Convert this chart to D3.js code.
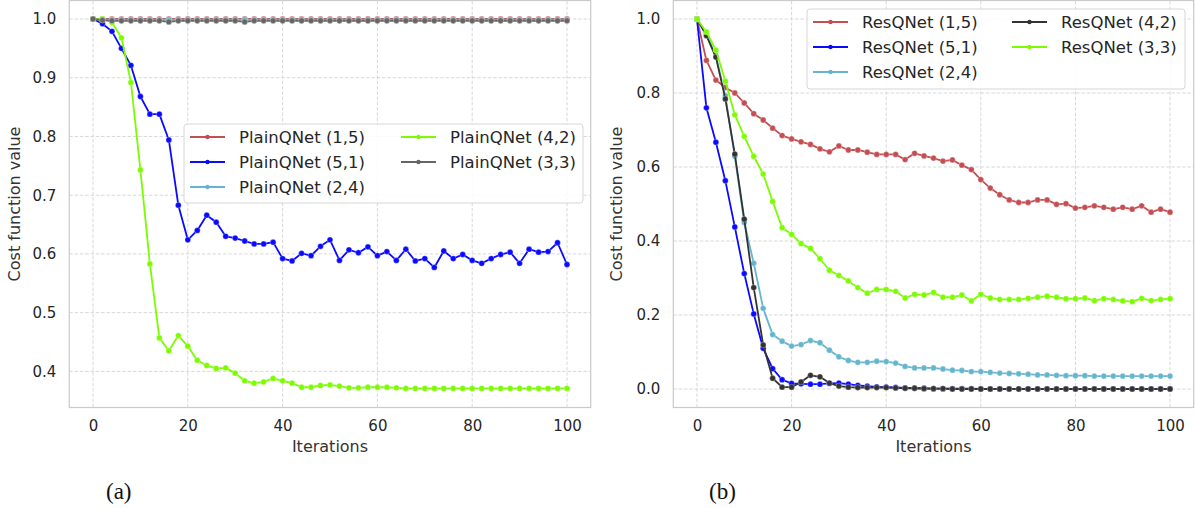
<!DOCTYPE html>
<html>
<head>
<meta charset="utf-8">
<script src="https://cdn.jsdelivr.net/npm/d3@7"></script>
<style>
body { margin: 0; background: #fff; }
svg { display: block; font-family: "DejaVu Sans", sans-serif; }
</style>
</head>
<body>
<div id="chart"></div>
<script>
var W = 1195, H = 508;

var iterations = [0, 2, 4, 6, 8, 10, 12, 14, 16, 18, 20, 22, 24, 26, 28, 30, 32, 34, 36, 38, 40,
    42, 44, 46, 48, 50, 52, 54, 56, 58, 60, 62, 64, 66, 68, 70, 72, 74, 76, 78, 80,
    82, 84, 86, 88, 90, 92, 94, 96, 98, 100];
var xTicks = [0, 20, 40, 60, 80, 100];

// (a) PlainQNet
var plain15 = [1.0, 1.0, 1.0, 1.0, 1.0, 1.0, 1.0, 1.0, 1.0, 1.0, 1.0, 1.0, 1.0, 1.0, 1.0, 1.0, 1.0,
    1.0, 1.0, 1.0, 1.0, 1.0, 1.0, 1.0, 1.0, 1.0, 1.0, 1.0, 1.0, 1.0, 1.0, 1.0, 1.0, 1.0,
    1.0, 1.0, 1.0, 1.0, 1.0, 1.0, 1.0, 1.0, 1.0, 1.0, 1.0, 1.0, 1.0, 1.0, 1.0, 1.0, 1.0];
var plain51 = [1.0, 0.992, 0.979, 0.950, 0.921, 0.868, 0.838, 0.838, 0.794, 0.683, 0.624,
    0.640, 0.666, 0.654, 0.630, 0.627, 0.622, 0.617, 0.617, 0.620, 0.592,
    0.588, 0.601, 0.597, 0.613, 0.624, 0.589, 0.607, 0.602, 0.612, 0.597,
    0.604, 0.589, 0.608, 0.588, 0.592, 0.577, 0.605, 0.592, 0.599, 0.589,
    0.584, 0.592, 0.599, 0.603, 0.584, 0.608, 0.603, 0.604, 0.619, 0.582];
var plain24 = [1.0, 0.999, 0.999, 0.999, 0.999, 0.999, 0.999, 0.999, 0.999, 0.999, 0.999,
    0.999, 0.999, 0.999, 0.999, 0.999, 0.999, 0.999, 0.999, 0.999, 0.999,
    0.999, 0.999, 0.999, 0.999, 0.999, 0.999, 0.999, 0.999, 0.999, 0.999,
    0.999, 0.999, 0.999, 0.999, 0.999, 0.999, 0.999, 0.999, 0.999, 0.999,
    0.999, 0.999, 0.999, 0.999, 0.999, 0.999, 0.999, 0.999, 0.999, 0.999];
var plain42 = [1.0, 1.0, 0.994, 0.968, 0.892, 0.743, 0.583, 0.457, 0.435, 0.461, 0.443,
    0.419, 0.410, 0.405, 0.406, 0.397, 0.384, 0.380, 0.382, 0.388, 0.384,
    0.380, 0.373, 0.373, 0.376, 0.377, 0.375, 0.372, 0.372, 0.373, 0.373,
    0.373, 0.372, 0.371, 0.371, 0.371, 0.371, 0.371, 0.371, 0.371, 0.371,
    0.371, 0.371, 0.371, 0.371, 0.371, 0.371, 0.371, 0.371, 0.371, 0.371];
var plain33 = [1.0, 0.998, 0.997, 0.997, 0.997, 0.997, 0.997, 0.997, 0.995, 0.997, 0.997,
    0.997, 0.997, 0.997, 0.997, 0.997, 0.995, 0.997, 0.997, 0.997, 0.997,
    0.997, 0.997, 0.997, 0.997, 0.997, 0.997, 0.997, 0.997, 0.997, 0.997,
    0.997, 0.997, 0.997, 0.997, 0.997, 0.997, 0.997, 0.997, 0.997, 0.997,
    0.997, 0.997, 0.997, 0.997, 0.997, 0.997, 0.997, 0.997, 0.997, 0.997];

// (b) ResQNet
var res15 = [1.0, 0.888, 0.835, 0.815, 0.800, 0.773, 0.744, 0.727, 0.705, 0.685, 0.676,
    0.668, 0.661, 0.649, 0.641, 0.657, 0.646, 0.646, 0.640, 0.634, 0.634,
    0.634, 0.620, 0.637, 0.630, 0.624, 0.616, 0.619, 0.605, 0.593, 0.566,
    0.543, 0.525, 0.511, 0.504, 0.504, 0.511, 0.511, 0.499, 0.501, 0.489,
    0.491, 0.495, 0.491, 0.486, 0.491, 0.486, 0.495, 0.478, 0.486, 0.478];
var res51 = [1.0, 0.760, 0.667, 0.563, 0.438, 0.312, 0.203, 0.110, 0.055, 0.025, 0.015,
    0.014, 0.013, 0.013, 0.015, 0.016, 0.013, 0.010, 0.008, 0.006, 0.005,
    0.004, 0.003, 0.002, 0.002, 0.001, 0.001, 0.001, 0.001, 0.001, 0.0,
    0.0, 0.0, 0.0, 0.0, 0.0, 0.0, 0.0, 0.0, 0.0, 0.0,
    0.0, 0.0, 0.0, 0.0, 0.0, 0.0, 0.0, 0.0, 0.0, 0.0];
var res24 = [1.0, 0.960, 0.900, 0.793, 0.629, 0.450, 0.340, 0.218, 0.147, 0.129, 0.116,
    0.120, 0.131, 0.125, 0.105, 0.087, 0.077, 0.072, 0.072, 0.075, 0.074,
    0.070, 0.061, 0.057, 0.057, 0.057, 0.054, 0.051, 0.050, 0.047, 0.047,
    0.045, 0.043, 0.042, 0.041, 0.040, 0.038, 0.038, 0.037, 0.036, 0.036,
    0.036, 0.035, 0.035, 0.035, 0.035, 0.035, 0.035, 0.035, 0.035, 0.035];
var res42 = [1.0, 0.955, 0.897, 0.784, 0.635, 0.459, 0.274, 0.119, 0.029, 0.005, 0.005,
    0.019, 0.037, 0.033, 0.016, 0.008, 0.005, 0.004, 0.004, 0.004, 0.004,
    0.003, 0.002, 0.002, 0.001, 0.001, 0.001, 0.0, 0.0, 0.0, 0.0,
    0.0, 0.0, 0.0, 0.0, 0.0, 0.0, 0.0, 0.0, 0.0, 0.0,
    0.0, 0.0, 0.0, 0.0, 0.0, 0.0, 0.0, 0.0, 0.0, 0.0];
var res33 = [1.0, 0.965, 0.916, 0.832, 0.741, 0.683, 0.629, 0.581, 0.507, 0.436, 0.418,
    0.393, 0.380, 0.352, 0.321, 0.307, 0.292, 0.274, 0.259, 0.269, 0.269,
    0.264, 0.246, 0.256, 0.254, 0.261, 0.248, 0.248, 0.254, 0.238, 0.256,
    0.246, 0.242, 0.242, 0.242, 0.245, 0.248, 0.251, 0.248, 0.244, 0.244,
    0.246, 0.239, 0.244, 0.242, 0.238, 0.236, 0.245, 0.239, 0.242, 0.244];

var plainLabels = ["PlainQNet (1,5)", "PlainQNet (5,1)", "PlainQNet (2,4)", "PlainQNet (4,2)", "PlainQNet (3,3)"];
var resLabels = ["ResQNet (1,5)", "ResQNet (5,1)", "ResQNet (2,4)", "ResQNet (4,2)", "ResQNet (3,3)"];
var plainTicksY = [0.4, 0.5, 0.6, 0.7, 0.8, 0.9, 1.0];
var resTicksY = [0.0, 0.2, 0.4, 0.6, 0.8, 1.0];

var RED = "#c44e52", BLUE = "#0a0aff", CYAN = "#64b5cd", LIME = "#7cfc00";

var svg = d3.select("#chart").append("svg")
    .attr("width", W)
    .attr("height", H);

function panel(p) {
    var x = d3.scaleLinear().domain([-5, 105]).range([p.left, p.right]);
    var y = d3.scaleLinear().domain(p.yDomain).range([407.5, 0.5]);
    var g = svg.append("g");

    // grid
    g.selectAll(".gx").data(xTicks).enter().append("line")
        .attr("x1", function(d) { return x(d); })
        .attr("x2", function(d) { return x(d); })
        .attr("y1", y.range()[0]).attr("y2", y.range()[1])
        .attr("stroke", "#d4d4d4").attr("stroke-width", 0.9)
        .attr("stroke-dasharray", "3.5,1.8");
    g.selectAll(".gy").data(p.yTicks).enter().append("line")
        .attr("x1", p.left).attr("x2", p.right)
        .attr("y1", function(d) { return y(d); })
        .attr("y2", function(d) { return y(d); })
        .attr("stroke", "#d4d4d4").attr("stroke-width", 0.9)
        .attr("stroke-dasharray", "3.5,1.8");

    var line = d3.line()
        .x(function(d, i) { return x(iterations[i]); })
        .y(function(d) { return y(d); });

    p.series.forEach(function(s) {
        var sg = g.append("g");
        sg.append("path")
            .attr("d", line(s.values))
            .attr("fill", "none")
            .attr("stroke", s.color)
            .attr("stroke-width", 1.8)
            .attr("stroke-linejoin", "round");
        sg.selectAll("circle").data(s.values).enter().append("circle")
            .attr("cx", function(d, i) { return x(iterations[i]); })
            .attr("cy", function(d) { return y(d); })
            .attr("r", 2.9)
            .attr("fill", s.color)
            .attr("stroke", "#fff")
            .attr("stroke-opacity", 0.6)
            .attr("stroke-width", 0.5);
    });

    // frame
    g.append("rect")
        .attr("x", p.left).attr("y", 0.5)
        .attr("width", p.right - p.left).attr("height", 407)
        .attr("fill", "none").attr("stroke", "#cccccc").attr("stroke-width", 1.25);

    var xAxis = d3.axisBottom(x).tickValues(xTicks).tickSize(0).tickPadding(0);
    var ax = g.append("g").attr("transform", "translate(0,420)").call(xAxis);
    ax.select(".domain").remove();
    ax.selectAll("text").attr("font-size", 15).attr("fill", "#262626")
        .attr("font-family", "DejaVu Sans").attr("dy", "0.71em");

    var yAxis = d3.axisLeft(y).tickValues(p.yTicks).tickFormat(d3.format(".1f")).tickSize(0).tickPadding(0);
    var ay = g.append("g").attr("transform", "translate(" + (p.left - 13) + ",0)").call(yAxis);
    ay.select(".domain").remove();
    ay.selectAll("text").attr("font-size", 15).attr("fill", "#262626")
        .attr("font-family", "DejaVu Sans");

    g.append("text")
        .attr("x", (p.left + p.right) / 2).attr("y", 452)
        .attr("text-anchor", "middle")
        .attr("font-size", 16).attr("fill", "#333")
        .text("Iterations");
    g.append("text")
        .attr("transform", "translate(" + p.ylabX + "," + 204 + ") rotate(-90)")
        .attr("text-anchor", "middle")
        .attr("font-size", 16).attr("fill", "#333")
        .text("Cost function value");

    g.append("text")
        .attr("x", p.capX).attr("y", 499)
        .attr("font-family", "Liberation Serif, serif")
        .attr("font-size", 23).attr("fill", "#111")
        .text(p.caption);

    // legend
    var L = p.legend;
    var lg = g.append("g");
    lg.append("rect")
        .attr("x", L.x).attr("y", L.y).attr("width", L.w).attr("height", L.h)
        .attr("rx", 3)
        .attr("fill", "#fff").attr("fill-opacity", 0.85)
        .attr("stroke", "#d6d6d6").attr("stroke-width", 1);
    p.series.forEach(function(s, i) {
        var col = i < 3 ? 0 : 1, row = i < 3 ? i : i - 3;
        var lx = L.x + 6 + col * L.colW, ly = L.y + 13 + row * 25;
        lg.append("line")
            .attr("x1", lx).attr("x2", lx + 35)
            .attr("y1", ly).attr("y2", ly)
            .attr("stroke", s.color).attr("stroke-width", 1.8);
        lg.append("circle")
            .attr("cx", lx + 17.5).attr("cy", ly).attr("r", 2.2)
            .attr("fill", s.color);
        lg.append("text")
            .attr("x", lx + 49).attr("y", ly)
            .attr("dy", "0.35em")
            .attr("font-size", 16.5).attr("fill", "#262626")
            .text(s.label);
    });
}

panel({
    left: 69.3, right: 590.7,
    yDomain: [0.3385, 1.0315],
    yTicks: plainTicksY,
    ylabX: 20, capX: 106, caption: "(a)",
    legend: { x: 184, y: 124, w: 399, h: 79, colW: 211 },
    series: [
        { label: plainLabels[0], values: plain15, color: RED },
        { label: plainLabels[1], values: plain51, color: BLUE },
        { label: plainLabels[2], values: plain24, color: CYAN },
        { label: plainLabels[3], values: plain42, color: LIME },
        { label: plainLabels[4], values: plain33, color: "#666666" }
    ]
});

panel({
    left: 673.3, right: 1193.7,
    yDomain: [-0.05, 1.05],
    yTicks: resTicksY,
    ylabX: 622, capX: 709, caption: "(b)",
    legend: { x: 807, y: 9, w: 378, h: 80, colW: 199 },
    series: [
        { label: resLabels[0], values: res15, color: RED },
        { label: resLabels[1], values: res51, color: BLUE },
        { label: resLabels[2], values: res24, color: CYAN },
        { label: resLabels[3], values: res42, color: "#333333" },
        { label: resLabels[4], values: res33, color: LIME }
    ]
});
</script>
</body>
</html>
